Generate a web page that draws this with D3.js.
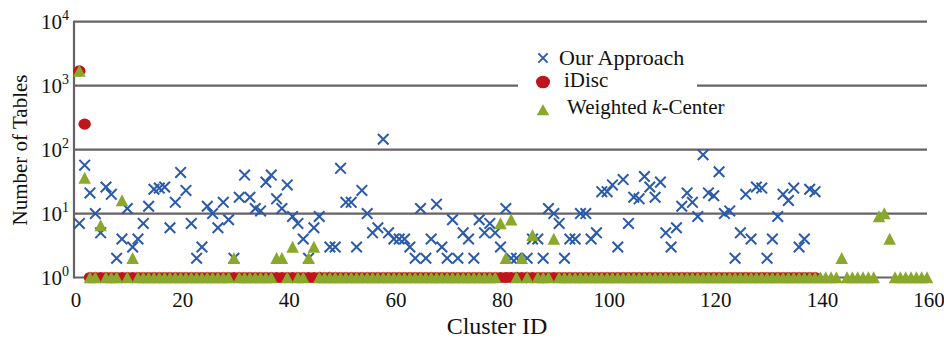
<!DOCTYPE html>
<html><head><meta charset="utf-8">
<script src="https://cdn.jsdelivr.net/npm/d3@7"></script>
<style>body{margin:0;background:#fff}svg{display:block}text{font-family:"Liberation Serif","Times New Roman",serif;fill:#111}</style>
</head><body><svg id="c" width="944" height="338"></svg>
<script>
// Number of tables per cluster (cluster IDs start at 1)
const oursValues = [
 7,57,21,10,5,26,20,2,4,12,
 3,4,7,13,24,25,26,6,15,44,
 23,7,2,3,13,10,6,15,8,2,
 18,40,18,12,11,31,40,17,12,28,
 9,7,4,2,6,9,1,3,3,51,
 15,15,3,23,10,5,6,145,5,4,
 4,4,3,2,12,2,4,14,3,2,
 8,2,5,4,2,8,5,7,5,3,
 12,2,2,1,2,4,4,2,12,10,
 7,2,4,4,10,10,4,5,22,22,
 28,3,34,7,18,17,38,26,18,31,
 5,3,6,13,21,15,9,83,21,19,
 45,10,11,2,5,20,4,26,25,2,
 4,9,20,16,25,3,4,24,22];
const iDiscValues = [
 1700,250,1,1,1,1,1,1,1,1,
 1,1,1,1,1,1,1,1,1,1,
 1,1,1,1,1,1,1,1,1,1,
 1,1,1,1,1,1,1,1,1,1,
 1,1,1,1,1,1,1,1,1,1,
 1,1,1,1,1,1,1,1,1,1,
 1,1,1,1,1,1,1,1,1,1,
 1,1,1,1,1,1,1,1,1,1,
 1,1,1,1,1,1,1,1,1,1,
 1,1,1,1,1,1,1,1,1,1,
 1,1,1,1,1,1,1,1,1,1,
 1,1,1,1,1,1,1,1,1,1,
 1,1,1,1,1,1,1,1,1,1,
 1,1,1,1,1,1,1,1,1];
const weightedValues = [
 1700,36,1,1,6.5,1,1,1,16,1,
 2,1,1,1,1,1,1,1,1,1,
 1,1,1,1,1,1,1,1,1,2,
 1,1,1,1,1,1,1,2,2,1,
 3,1,1,2,3,1,1,1,1,1,
 1,1,1,1,1,1,1,1,1,1,
 1,1,1,1,1,1,1,1,1,1,
 1,1,1,1,1,1,1,1,1,7,
 2,8,1,2,1,4.6,1,1,1,4,
 1,1,1,1,1,1,1,1,1,1,
 1,1,1,1,1,1,1,1,1,1,
 1,1,1,1,1,1,1,1,1,1,
 1,1,1,1,1,1,1,1,1,1,
 1,1,1,1,1,1,1,1,1,1,
 1,1,1,2,1,1,1,1,1,1,
 9,10,4,1,1,1,1,1,1,1];
const xTicks = [0,20,40,60,80,100,120,140,160];
const yTicks = [1,10,100,1000,10000];
const yExponents = ["0","1","2","3","4"];
const seriesNames = ["Our Approach","iDisc","Weighted "];

const blue="#2a5aaa", red="#c0141c", green="#89a82c", grid="#686266";
const svg=d3.select("#c");
const x=d3.scaleLinear().domain([0,160]).range([74,927]);
const y=d3.scaleLog().domain([1,10000]).range([277.5,21.7]);

// gridlines
svg.append("g").selectAll("line").data(yTicks).join("line")
 .attr("x1",x(0)).attr("x2",x(160)).attr("y1",d=>y(d)).attr("y2",d=>y(d))
 .attr("stroke",grid).attr("stroke-width",2.2);
svg.append("line").attr("x1",x(0)).attr("x2",x(0)).attr("y1",y(10000)-1).attr("y2",y(1)+1)
 .attr("stroke",grid).attr("stroke-width",2.2);

// y tick labels
const yl=svg.append("g").selectAll("text").data(yTicks).join("text")
 .attr("x",69).attr("y",d=>y(d)+7.5).attr("text-anchor","end").style("font-size","21px");
yl.append("tspan").text("10");
yl.append("tspan").text((d,i)=>yExponents[i]).attr("dy",-9).style("font-size","14px");

// x tick labels
svg.append("g").selectAll("text").data(xTicks).join("text")
 .attr("x",d=>x(d)+2).attr("y",307).attr("text-anchor","middle").style("font-size","21px").text(d=>d);

// axis titles
svg.append("text").attr("x",497).attr("y",334).attr("text-anchor","middle").style("font-size","24px").text("Cluster ID");
svg.append("text").attr("transform","translate(27,150) rotate(-90)").attr("text-anchor","middle").style("font-size","21px").text("Number of Tables");

// legend background
svg.append("rect").attr("x",518).attr("y",40).attr("width",179).attr("height",92).attr("fill","#fff");

const crossPath=s=>`M${-s},${-s}L${s},${s}M${-s},${s}L${s},${-s}`;
const triPath=(w,h)=>`M0,${-h*0.52}L${w/2},${h*0.48}L${-w/2},${h*0.48}Z`;

// Our Approach
svg.append("g").selectAll("path").data(oursValues.map((v,i)=>({id:i+1,v}))).join("path")
 .attr("transform",d=>`translate(${x(d.id)},${y(d.v)})`).attr("d",crossPath(5.3))
 .attr("stroke",blue).attr("stroke-width",2).attr("fill","none");
// iDisc
svg.append("g").selectAll("ellipse").data(iDiscValues.map((v,i)=>({id:i+1,v}))).join("ellipse")
 .attr("cx",d=>x(d.id)).attr("cy",d=>y(d.v)).attr("rx",6.2).attr("ry",5.6).attr("fill",red);
// Weighted k-Center
svg.append("g").selectAll("path").data(weightedValues.map((v,i)=>({id:i+1,v}))).join("path")
 .attr("transform",d=>`translate(${x(d.id)},${y(d.v)})`).attr("d",triPath(12.5,12)).attr("fill",green);

// legend
svg.append("path").attr("transform","translate(543,58)").attr("d",crossPath(4.6)).attr("stroke",blue).attr("stroke-width",1.9);
svg.append("ellipse").attr("cx",543).attr("cy",82).attr("rx",7).attr("ry",6.3).attr("fill",red);
svg.append("path").attr("transform","translate(543,110)").attr("d",triPath(12.5,11)).attr("fill",green);
svg.append("text").attr("x",559).attr("y",65).style("font-size","22px").text(seriesNames[0]);
svg.append("text").attr("x",564).attr("y",87).style("font-size","21px").text(seriesNames[1]);
const wt=svg.append("text").attr("x",567).attr("y",114).style("font-size","21px");
wt.append("tspan").text(seriesNames[2]);
wt.append("tspan").style("font-style","italic").text("k");
wt.append("tspan").text("-Center");
</script></body></html>
